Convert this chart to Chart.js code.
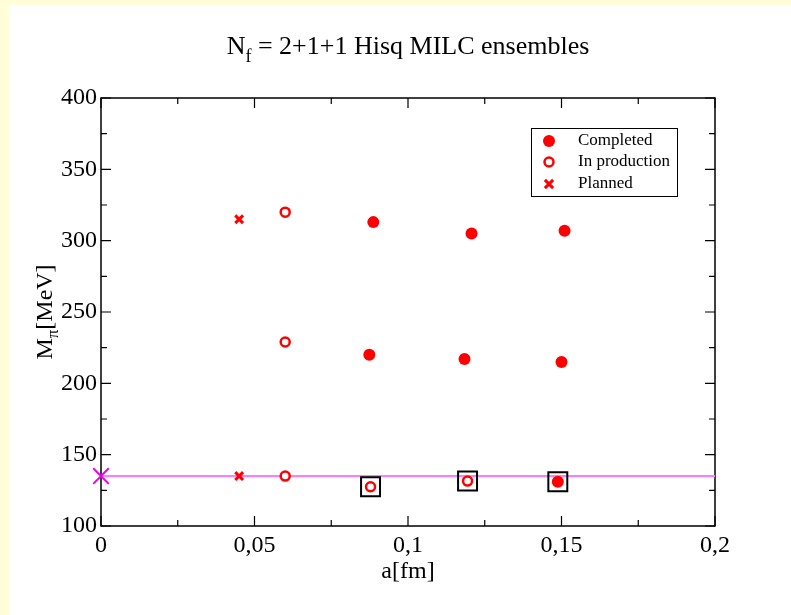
<!DOCTYPE html>
<html>
<head>
<meta charset="utf-8">
<script src="https://cdn.jsdelivr.net/npm/chart.js@4.4.0/dist/chart.umd.min.js"></script>
<style>
  html, body { margin: 0; padding: 0; background: #fff; }
  #wrap { position: relative; width: 791px; height: 615px; }
  canvas { position: absolute; left: 0; top: 0; }
</style>
</head>
<body>
<div id="wrap"><canvas id="chart" width="791" height="615"></canvas></div>
<script>
// lattice spacing a [fm] and pion mass [MeV] of each ensemble
const completedA = [0.0887, 0.1207, 0.151, 0.0874, 0.1184, 0.150, 0.1488];
const completedM = [313, 305, 307, 220, 217, 215, 131];
const productionA = [0.060, 0.060, 0.060, 0.0878, 0.1194];
const productionM = [320, 229, 135, 127.5, 131.5];
const plannedA = [0.045, 0.045];
const plannedM = [315, 135];

// ensembles at the physical point (boxed)
const boxedA = [0.0878, 0.1194, 0.1488];
const boxedM = [127.5, 131.5, 131];

// physical pion mass
const physA = [0, 0.2];
const physM = [135, 135];

const xTickLabels = ['0', '0,05', '0,1', '0,15', '0,2'];
const yTickLabels = ['100', '150', '200', '250', '300', '350', '400'];
const legendLabels = ['Completed', 'In production', 'Planned'];

const SERIF = "'Liberation Serif', 'Times New Roman', serif";
const RED = '#ff0000';

function pts(xs, ys) {
  return xs.map((x, i) => ({ x: x, y: ys[i] }));
}

// text with one subscripted piece
function drawParts(ctx, parts, x, y, size, subSize, subDrop, align) {
  let total = 0;
  parts.forEach(p => {
    ctx.font = (p.sub ? subSize : size) + 'px ' + SERIF;
    p.w = ctx.measureText(p.t).width;
    total += p.w;
  });
  let cx = align === 'center' ? x - total / 2 : x;
  ctx.textAlign = 'left';
  ctx.textBaseline = 'alphabetic';
  parts.forEach(p => {
    ctx.font = (p.sub ? subSize : size) + 'px ' + SERIF;
    ctx.fillText(p.t, cx, p.sub ? y + subDrop : y);
    cx += p.w;
  });
}

const pagePlugin = {
  id: 'page',
  beforeDraw(chart) {
    const ctx = chart.ctx;
    ctx.save();
    ctx.fillStyle = '#ffffff';
    ctx.fillRect(0, 0, chart.width, chart.height);
    ctx.fillStyle = '#fffed8';
    ctx.fillRect(0, 0, chart.width, 5);
    ctx.fillRect(0, 0, 9, chart.height);
    ctx.restore();
  },
  beforeDatasetsDraw(chart) {
    const ctx = chart.ctx;
    const a = chart.chartArea;
    const xs = chart.scales.x, ys = chart.scales.y;
    ctx.save();
    ctx.strokeStyle = '#000';
    ctx.lineWidth = 1.5;
    ctx.strokeRect(a.left, a.top, a.right - a.left, a.bottom - a.top);
    ctx.lineWidth = 1.2;
    const major = 10, minor = 6;
    ctx.beginPath();
    xs.ticks.forEach((t, i) => {
      const px = xs.getPixelForValue(t.value);
      ctx.moveTo(px, a.bottom); ctx.lineTo(px, a.bottom - major);
      ctx.moveTo(px, a.top); ctx.lineTo(px, a.top + major);
      if (i < xs.ticks.length - 1) {
        const m = xs.getPixelForValue((t.value + xs.ticks[i + 1].value) / 2);
        ctx.moveTo(m, a.bottom); ctx.lineTo(m, a.bottom - minor);
        ctx.moveTo(m, a.top); ctx.lineTo(m, a.top + minor);
      }
    });
    ys.ticks.forEach((t, i) => {
      const py = ys.getPixelForValue(t.value);
      ctx.moveTo(a.left, py); ctx.lineTo(a.left + major, py);
      ctx.moveTo(a.right, py); ctx.lineTo(a.right - major, py);
      if (i < ys.ticks.length - 1) {
        const m = ys.getPixelForValue((t.value + ys.ticks[i + 1].value) / 2);
        ctx.moveTo(a.left, m); ctx.lineTo(a.left + minor, m);
        ctx.moveTo(a.right, m); ctx.lineTo(a.right - minor, m);
      }
    });
    ctx.stroke();
    ctx.restore();
  },
  afterDraw(chart) {
    const ctx = chart.ctx;
    const a = chart.chartArea;
    const midX = (a.left + a.right) / 2;
    ctx.save();
    ctx.fillStyle = '#000';

    // title
    drawParts(ctx, [{ t: 'N' }, { t: 'f', sub: true }, { t: ' = 2+1+1 Hisq MILC ensembles' }],
      midX, 54, 26, 18, 8, 'center');

    // x axis title
    ctx.font = '24px ' + SERIF;
    ctx.textAlign = 'center';
    ctx.textBaseline = 'middle';
    ctx.fillText('a[fm]', midX, 572);

    // y axis title
    ctx.save();
    ctx.translate(52, (a.top + a.bottom) / 2);
    ctx.rotate(-Math.PI / 2);
    drawParts(ctx, [{ t: 'M' }, { t: 'π', sub: true }, { t: '[MeV]' }], 0, 0, 24, 17, 6, 'center');
    ctx.restore();

    // legend
    ctx.lineWidth = 1;
    ctx.strokeStyle = '#000';
    ctx.strokeRect(531.5, 128.5, 146, 68);
    const rows = [141, 162, 184];
    [0, 1, 2].forEach(i => {
      const ds = chart.data.datasets[i];
      ctx.fillStyle = ds.backgroundColor;
      ctx.strokeStyle = ds.borderColor;
      ctx.lineWidth = ds.borderWidth;
      ctx.beginPath();
      if (ds.pointStyle === 'circle') {
        ctx.arc(549, rows[i], ds.pointRadius, 0, Math.PI * 2);
        ctx.fill();
        if (ds.borderWidth) ctx.stroke();
      } else {
        const r = ds.pointRadius * 0.75;
        ctx.moveTo(549 - r, rows[i] - r); ctx.lineTo(549 + r, rows[i] + r);
        ctx.moveTo(549 - r, rows[i] + r); ctx.lineTo(549 + r, rows[i] - r);
        ctx.stroke();
      }
      ctx.fillStyle = '#000';
      ctx.font = '17px ' + SERIF;
      ctx.textAlign = 'left';
      ctx.textBaseline = 'middle';
      ctx.fillText(legendLabels[i], 578, rows[i]);
    });
    ctx.restore();
  }
};

const chart = new Chart(document.getElementById('chart'), {
  type: 'scatter',
  data: {
    datasets: [
      {
        label: legendLabels[0],
        data: pts(completedA, completedM),
        pointStyle: 'circle',
        pointRadius: 6,
        borderWidth: 0,
        backgroundColor: RED,
        borderColor: RED
      },
      {
        label: legendLabels[1],
        data: pts(productionA, productionM),
        pointStyle: 'circle',
        pointRadius: 4.5,
        borderWidth: 2.5,
        backgroundColor: '#ffffff',
        borderColor: RED
      },
      {
        label: legendLabels[2],
        data: pts(plannedA, plannedM),
        pointStyle: 'crossRot',
        pointRadius: 5.5,
        borderWidth: 3,
        backgroundColor: RED,
        borderColor: RED
      },
      {
        label: 'physical point',
        data: pts([physA[0]], [physM[0]]),
        pointStyle: 'crossRot',
        pointRadius: 11,
        borderWidth: 2,
        borderColor: '#ee00ee',
        backgroundColor: '#ee00ee',
        clip: false
      },
      {
        label: 'boxes',
        data: pts(boxedA, boxedM),
        pointStyle: 'rect',
        pointRadius: 13.4,
        borderWidth: 2,
        borderColor: '#000',
        backgroundColor: 'rgba(0,0,0,0)'
      },
      {
        type: 'line',
        label: 'physical mass',
        data: pts(physA, physM),
        borderColor: '#f583f5',
        borderWidth: 2.2,
        pointRadius: 0,
        fill: false
      }
    ]
  },
  options: {
    responsive: false,
    animation: false,
    events: [],
    layout: { padding: { left: 0, top: 98, right: 76, bottom: 0 } },
    plugins: { legend: { display: false }, title: { display: false }, tooltip: { enabled: false } },
    elements: { point: { hoverRadius: 0 } },
    scales: {
      x: {
        type: 'linear',
        min: 0,
        max: 0.2,
        grid: { display: false, drawTicks: false },
        border: { display: false },
        afterFit: s => { s.height = 89; },
        ticks: {
          stepSize: 0.05,
          padding: 5,
          color: '#000',
          font: { family: SERIF, size: 24 },
          maxRotation: 0,
          callback: (v, i) => xTickLabels[i]
        }
      },
      y: {
        type: 'linear',
        min: 100,
        max: 400,
        grid: { display: false, drawTicks: false },
        border: { display: false },
        afterFit: s => { s.width = 101; },
        ticks: {
          stepSize: 50,
          padding: 4,
          color: '#000',
          font: { family: SERIF, size: 24 },
          callback: (v, i) => yTickLabels[i]
        }
      }
    }
  },
  plugins: [pagePlugin]
});
</script>
</body>
</html>
